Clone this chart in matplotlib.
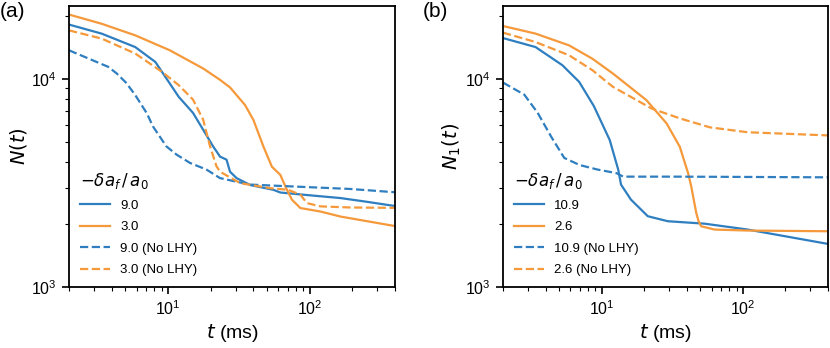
import matplotlib
matplotlib.use("Agg")
import matplotlib.pyplot as plt

plt.rcParams["font.family"] = ["Liberation Sans", "DejaVu Sans"]
plt.rcParams["mathtext.fontset"] = "dejavusans"

# ---- panel (a): N(t) ----
a_lhy9_t = [2.0, 3.4, 5.87, 8.14, 9.58, 11.9, 15.0, 17.7, 20.8, 23.3, 25.9, 27.4, 30.5, 38, 55.5, 62, 90.6, 165, 255, 407]
a_lhy9_n = [18240, 16500, 14220, 12060, 10220, 8200, 6870, 5700, 4740, 4230, 4090, 3580, 3335, 3090, 2930, 2845, 2775, 2675, 2565, 2445]
a_lhy3_t = [2.0, 3.4, 5.87, 10.3, 17.7, 23.3, 27.4, 35.0, 40.1, 47.2, 54.1, 62, 69.1, 75, 86, 119, 165, 255, 407]
a_lhy3_n = [20380, 18400, 16190, 13720, 11220, 9890, 9100, 7480, 6340, 4720, 3785, 3460, 2930, 2625, 2395, 2305, 2180, 2070, 1958]
a_no9_t = [2.0, 3.79, 4.35, 5.07, 5.87, 7.1, 7.83, 9.73, 11.5, 14.3, 18.7, 23.3, 37.9, 86, 194, 407]
a_no9_n = [13720, 11420, 10610, 9570, 8360, 6820, 5910, 4740, 4325, 3945, 3665, 3335, 3105, 3030, 2958, 2850]
a_no3_t = [2.0, 3.4, 5.87, 9.06, 11.9, 15.0, 17.7, 19.8, 22, 23.3, 32.3, 52.6, 70.6, 86, 95.6, 119, 194, 407]
a_no3_n = [17100, 15620, 13240, 10810, 9330, 7960, 6370, 4740, 3800, 3580, 3155, 2985, 2930, 2775, 2530, 2440, 2410, 2400]

# ---- panel (b): N1(t) ----
b_lhy109_t = [2.0, 3.4, 5.26, 6.92, 8.8, 11.4, 13.1, 13.7, 16.1, 21.2, 29.4, 53.5, 108, 401]
b_lhy109_n = [15710, 14220, 11640, 9680, 7400, 5080, 3655, 3105, 2630, 2188, 2070, 2015, 1888, 1610]
b_lhy26_t = [2.0, 3.4, 5.87, 8.59, 12.0, 20.7, 28.8, 35.7, 40.9, 43, 46.7, 48.5, 50.6, 63, 108, 401]
b_lhy26_n = [17950, 16500, 14490, 12500, 10610, 7910, 6110, 4720, 3520, 3050, 2270, 2070, 1958, 1888, 1867, 1853]
b_no109_t = [2.0, 2.83, 3.52, 4.37, 5.43, 6.98, 9.37, 12.7, 14.2, 36.5, 401]
b_no109_n = [9600, 8400, 6870, 5300, 4170, 3855, 3665, 3525, 3390, 3390, 3365]
b_no26_t = [2.0, 3.4, 5.87, 8.59, 12.0, 22.5, 35.7, 58.3, 108, 401]
b_no26_n = [16680, 15030, 12990, 11010, 9160, 7210, 6460, 5850, 5540, 5350]

BLUE, ORANGE = "#2f7fc0", "#f5993a"

fig = plt.figure(figsize=(8.3, 3.48), dpi=100)
ax_a = fig.add_axes([0.0831, 0.1753, 0.3928, 0.8075])
ax_b = fig.add_axes([0.606, 0.1753, 0.3916, 0.8075])


def panel(ax, curves, ylabel):
    for t, n, c, ls, lab in curves:
        ax.plot(t, n, color=c, ls=ls, lw=1.6, label=lab)
    ax.set_xscale("log"); ax.set_yscale("log")
    ax.set_xlim(2, 400); ax.set_ylim(1000, 22400)
    ax.set_xlabel(r"$t$ (ms)", fontsize=14, labelpad=3)
    ax.set_ylabel(ylabel, fontsize=14, labelpad=2)
    ax.tick_params(which="major", labelsize=11.5, length=5, width=1.2)
    ax.tick_params(which="minor", length=3, width=0.8)
    for s in ax.spines.values():
        s.set_linewidth(1.3)
    leg = ax.legend(loc="lower left", frameon=False, fontsize=9.5,
                    title=r"$-\delta a_f\,/\,a_0$", title_fontsize=12,
                    handlelength=2.3, borderaxespad=0.4, labelspacing=0.7)
    leg._legend_box.align = "left"


panel(ax_a, [
    (a_lhy9_t, a_lhy9_n, BLUE, "-", "9.0"),
    (a_lhy3_t, a_lhy3_n, ORANGE, "-", "3.0"),
    (a_no9_t, a_no9_n, BLUE, "--", "9.0 (No LHY)"),
    (a_no3_t, a_no3_n, ORANGE, "--", "3.0 (No LHY)"),
], r"$N(t)$")

panel(ax_b, [
    (b_lhy109_t, b_lhy109_n, BLUE, "-", "10.9"),
    (b_lhy26_t, b_lhy26_n, ORANGE, "-", "2.6"),
    (b_no109_t, b_no109_n, BLUE, "--", "10.9 (No LHY)"),
    (b_no26_t, b_no26_n, ORANGE, "--", "2.6 (No LHY)"),
], r"$N_1(t)$")

fig.text(0.0, 0.995, "(a)", fontsize=15, va="top", ha="left")
fig.text(0.509, 0.995, "(b)", fontsize=15, va="top", ha="left")

fig.savefig("out.png", dpi=100)
